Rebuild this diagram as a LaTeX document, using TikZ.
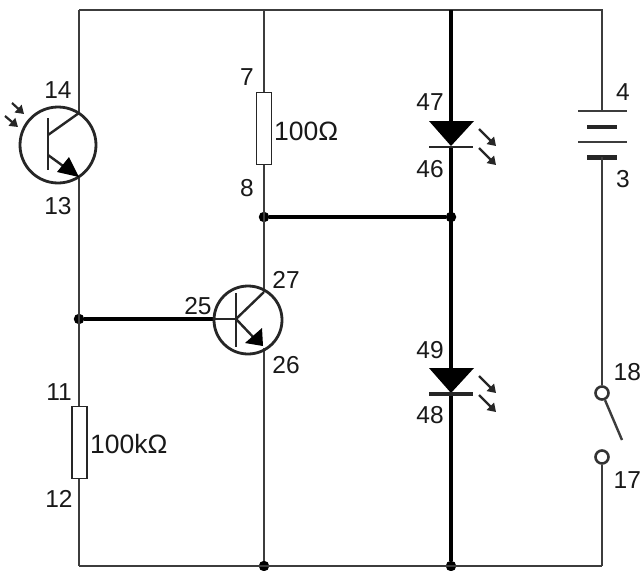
\documentclass[tikz,border=0pt]{standalone}
\usepackage{fontspec}
\setmainfont{Liberation Sans}
\usetikzlibrary{arrows.meta}
\definecolor{wire}{HTML}{3C3C3C}
\tikzset{
  wireline/.style={draw=wire,line width=2.2pt},
  thickwire/.style={draw=black,line width=3.1pt},
  sym/.style={draw=black!85,line width=2.4pt},
  res/.style={draw=black!85,fill=white,line width=1.8pt,minimum width=15pt,minimum height=72pt,inner sep=0pt,rectangle},
  lbl/.style={font=\fontsize{24.5}{27}\selectfont,inner sep=0pt,text=black!90},
  lblwide/.style={font=\fontsize{26.5}{29}\selectfont,inner sep=0pt,text=black!90},
  junction/.style={circle,fill=black,inner sep=0pt,minimum size=10.5pt},
  term/.style={circle,draw=black!80,fill=white,line width=2.6pt,inner sep=0pt,minimum size=13pt},
  headfill/.style={fill=black,draw=none},
  lightray/.style={draw=black!85,line width=2.2pt,-{Triangle[length=8pt,width=10pt]}},
}
\begin{document}
\begin{tikzpicture}[x=1pt,y=-1pt]
\useasboundingbox (0,0) rectangle (642,570);
\fill[white] (0,0) rectangle (642,570);
% corners and junction points
\coordinate (tl) at (79,10);
\coordinate (tm) at (264,10);
\coordinate (tled) at (451,10);
\coordinate (tr) at (602,10);
\coordinate (bl) at (79,566);
\coordinate (br) at (602,566);
\node[junction] (bm) at (264,566) {};
\node[junction] (bled) at (451,566) {};
\node[junction] (jb) at (79,319) {};
\node[junction] (jm) at (264,217) {};
\node[junction] (jled) at (451,217) {};
% wires
\draw[wireline] (tl) -- (tr) -- (602,111);
\draw[wireline] (bl) -- (br);
\draw[wireline] (tl) -- (79,113);
\draw[wireline] (79,177) -- (bl);
\draw[wireline] (tm) -- (264,292);
\draw[wireline] (264,348) -- (bm);
\draw[thickwire] (tled) -- (451,121);
\draw[thickwire] (451,147) -- (451,368);
\draw[thickwire] (451,394) -- (bled);
\draw[thickwire] (jm) -- (jled);
\draw[thickwire] (jb) -- (215,319);
% resistors
\node[res] (r1) at (264,128.5) {};
\node[res] (r2) at (79.5,442.5) {};
% phototransistor
\node[circle,draw=black!85,line width=2.8pt,minimum size=76pt,inner sep=0pt] (q1) at (58,145) {};
\draw[sym] (48,118) -- (48,170);
\draw[sym] (48,135) -- (79,113);
\draw[sym] (48,155) -- (70,171);
\path[headfill] (79,177) -- (57,172) -- (69,157) -- cycle;
\draw[lightray] (12,103) -- (24,114);
\draw[lightray] (5,116) -- (18,127);
% transistor
\node[circle,draw=black!85,line width=2.8pt,minimum size=68pt,inner sep=0pt] (q2) at (248,320) {};
\draw[sym,line width=2pt] (236,293) -- (236,347);
\draw[sym,line width=2pt] (215,319) -- (236,319);
\draw[sym] (236,319) -- (264,292);
\draw[sym] (236,319) -- (256,340);
\path[headfill] (263,346) -- (245,343) -- (262,328) -- cycle;
% LEDs
\path[headfill] (429,121) -- (474,121) -- (451,146) -- cycle;
\draw[sym,line width=2.8pt] (429,147) -- (473,147);
\draw[lightray] (479,129) -- (496,146);
\draw[lightray] (479,148) -- (496,165);
\path[headfill] (429,368) -- (474,368) -- (451,393) -- cycle;
\draw[sym,line width=3.6pt] (429,394) -- (473,394);
\draw[lightray] (479,376) -- (496,393);
\draw[lightray] (479,395) -- (496,412);
% battery
\draw[wireline] (578,111) -- (627,111);
\draw[sym,line width=3.6pt] (587,127) -- (617,127);
\draw[wireline] (578,142) -- (627,142);
\draw[sym,line width=5pt] (587,157) -- (617,157);
% switch
\node[term] (s1) at (602,393) {};
\node[term] (s2) at (602,457) {};
\draw[wireline] (602,157) -- (s1);
\draw[wireline] (s2) -- (br);
\draw[wireline,line width=2.4pt] (s1) -- (622,440);
% labels
\node[lbl] (l14) at (58,90) {14};
\node[lbl] (l13) at (58,206) {13};
\node[lbl] (l7) at (247,77) {7};
\node[lblwide,anchor=west] (l100) at (274,131) {100Ω};
\node[lbl] (l8) at (247,188) {8};
\node[lbl] (l27) at (286,280) {27};
\node[lbl] (l25) at (198,306) {25};
\node[lbl] (l26) at (286,365) {26};
\node[lbl] (l47) at (430,102) {47};
\node[lbl] (l46) at (430,169) {46};
\node[lbl] (l49) at (430,350) {49};
\node[lbl] (l48) at (430,415) {48};
\node[lbl] (l4) at (623,92) {4};
\node[lbl] (l3) at (623,179) {3};
\node[lbl,anchor=west] (l18) at (613.5,372) {18};
\node[lbl,anchor=west] (l17) at (613.5,480) {17};
\node[lbl] (l11) at (59,392) {11};
\node[lbl] (l12) at (59,499) {12};
\node[lblwide,anchor=west] (l100k) at (90,444) {100kΩ};
\end{tikzpicture}
\end{document}
